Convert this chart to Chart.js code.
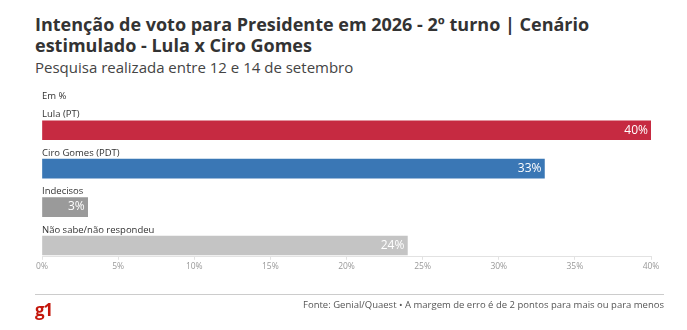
<!DOCTYPE html>
<html lang="pt-BR">
<head>
<meta charset="utf-8">
<title>Intenção de voto - 2º turno - Lula x Ciro Gomes</title>
<script src="https://cdn.jsdelivr.net/npm/chart.js@4"></script>
<style>
  html, body { margin: 0; padding: 0; background: #fff; }
  body { width: 687px; height: 330px; position: relative; overflow: hidden; font-family: "Open Sans", sans-serif; color: #333; }
  #title { position: absolute; left: 35px; top: 14px; width: 640px; font-size: 18px; font-weight: 700; line-height: 21px; color: #333; }
  #subtitle { position: absolute; left: 35px; top: 57px; font-size: 15px; line-height: 20px; color: #444; }
  #chart { position: absolute; left: 0; top: 0; }
  #rule { position: absolute; left: 35px; top: 294px; width: 629px; height: 1px; background: #ccc; }
  #logo { position: absolute; left: 35px; top: 298px; font-size: 17px; font-weight: 700; color: #c4170c; letter-spacing: -1px; }
  #source { position: absolute; right: 23px; top: 298px; font-size: 9.5px; color: #555; }
</style>
</head>
<body>
<div id="title">Intenção de voto para Presidente em 2026 - 2º turno | Cenário estimulado - Lula x Ciro Gomes</div>
<div id="subtitle">Pesquisa realizada entre 12 e 14 de setembro</div>
<canvas id="chart" width="687" height="330"></canvas>
<div id="rule"></div>
<div id="logo">g1</div>
<div id="source">Fonte: Genial/Quaest • A margem de erro é de 2 pontos para mais ou para menos</div>
<script>
const categories = ["Lula (PT)", "Ciro Gomes (PDT)", "Indecisos", "Não sabe/não respondeu"];
const values = [40, 33, 3, 24];
const barColors = ["#c62a41", "#3a77b5", "#9a9a9a", "#c4c4c4"];
const tickValues = [0, 5, 10, 15, 20, 25, 30, 35, 40];

// Category names above each bar, value labels inside the bar end, and the "Em %" note
const barText = {
  id: "barText",
  afterDatasetsDraw(chart) {
    const ctx = chart.ctx;
    const meta = chart.getDatasetMeta(0);
    ctx.save();
    ctx.textBaseline = "middle";
    meta.data.forEach((bar, i) => {
      const h = bar.height;
      const top = bar.y - h / 2;
      ctx.font = "9.5px 'Open Sans'";
      ctx.fillStyle = "#333";
      ctx.textAlign = "left";
      ctx.fillText(categories[i], chart.chartArea.left, top - 6);
      ctx.font = "12px 'Open Sans'";
      ctx.fillStyle = "#fff";
      ctx.textAlign = "right";
      ctx.fillText(values[i] + "%", bar.x - 3, bar.y);
    });
    ctx.font = "9.5px 'Open Sans'";
    ctx.fillStyle = "#333";
    ctx.textAlign = "left";
    ctx.fillText("Em %", chart.chartArea.left, 96);
    ctx.restore();
  }
};

new Chart(document.getElementById("chart"), {
  type: "bar",
  data: {
    datasets: [{
      data: categories.map((c, i) => ({ x: values[i], y: i })),
      backgroundColor: barColors,
      borderWidth: 0,
      barThickness: 19
    }]
  },
  options: {
    indexAxis: "y",
    responsive: false,
    animation: false,
    layout: { padding: { left: 42, right: 36, top: 111, bottom: 56 } },
    plugins: { legend: { display: false }, tooltip: { enabled: false } },
    scales: {
      y: {
        type: "linear",
        reverse: true,
        offset: false,
        min: -0.5,
        max: 3.295,
        display: false
      },
      x: {
        type: "linear",
        min: 0,
        max: 40,
        afterBuildTicks: (axis) => { axis.ticks = tickValues.map(v => ({ value: v })); },
        grid: { drawOnChartArea: false, drawTicks: true, tickLength: 3, color: "#e2e2e2" },
        border: { color: "#e2e2e2" },
        ticks: {
          padding: 2,
          color: "#999",
          font: { family: "'Open Sans'", size: 8.5 },
          callback: (v) => v + "%"
        }
      }
    }
  },
  plugins: [barText]
});
</script>
</body>
</html>
